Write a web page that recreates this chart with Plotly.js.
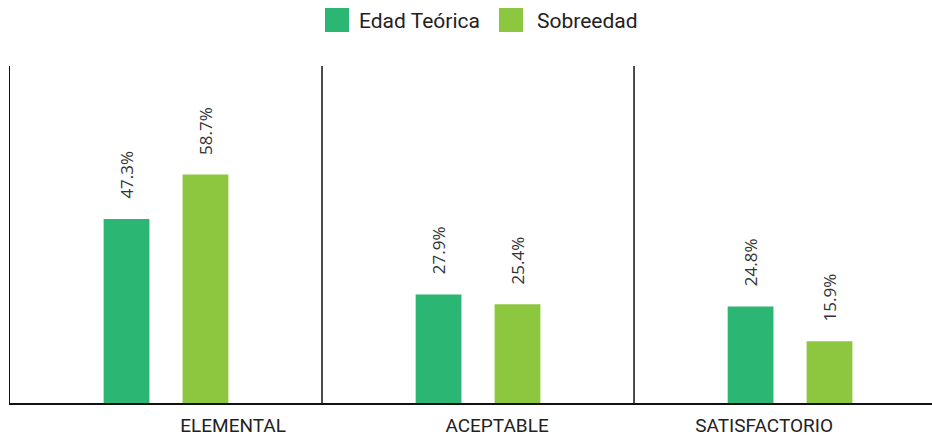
<!DOCTYPE html>
<html><head><meta charset="utf-8">
<script src="https://cdn.plot.ly/plotly-3.0.1.min.js"></script>
<style>html,body{margin:0;padding:0;background:#fff;}#chart{width:932px;height:437px;}</style>
</head><body><div id="chart"></div>
<script>
const categories = ["ELEMENTAL", "ACEPTABLE", "SATISFACTORIO"];
const seriesNames = ["Edad Teórica", "Sobreedad"];
const edadTeorica = [47.3, 27.9, 24.8];
const sobreedad = [58.7, 25.4, 15.9];
const colors = ["#2bb673", "#8dc63f"];
const labelPositions = [0.215, 1.061, 1.917];

const xs = categories.map((c, i) => i);
const fontMain = "Roboto, 'DejaVu Sans', sans-serif";

const traces = [
  {type: "bar", x: xs, y: edadTeorica, name: seriesNames[0], marker: {color: colors[0]}, showlegend: false, hoverinfo: "none"},
  {type: "bar", x: xs, y: sobreedad, name: seriesNames[1], marker: {color: colors[1]}, showlegend: false, hoverinfo: "none"}
];

const offset = 0.126;
const annotations = [];
[edadTeorica, sobreedad].forEach((vals, s) => {
  vals.forEach((v, i) => {
    annotations.push({
      x: i + (s === 0 ? -offset : offset), y: v, xref: "x", yref: "y",
      text: v.toFixed(1) + "%", showarrow: false, textangle: -90,
      xanchor: "center", yanchor: "bottom", yshift: 18,
      font: {family: "'Open Sans', 'Noto Sans', sans-serif", size: 17, color: "#333"}
    });
  });
});

const shapes = [0.5, 1.5].map(xv => ({
  type: "line", xref: "x", yref: "paper", x0: xv, x1: xv, y0: 0, y1: 1,
  line: {color: "#111", width: 1.5}
}));

// manual legend (pixel layout converted to paper coords)
const plotL = 10, plotW = 922, plotB = 403, plotH = 337;
const px = v => (v - plotL) / plotW;
const py = v => (plotB - v) / plotH;
const legendItems = [
  {sx: 325, tx: 357},
  {sx: 499, tx: 535}
];
legendItems.forEach((it, k) => {
  shapes.push({
    type: "rect", xref: "paper", yref: "paper",
    x0: px(it.sx), x1: px(it.sx + 24), y0: py(32), y1: py(8),
    fillcolor: colors[k], line: {width: 0}
  });
  annotations.push({
    xref: "paper", yref: "paper", x: px(it.tx), y: py(21),
    xanchor: "left", yanchor: "middle", showarrow: false,
    text: seriesNames[k], font: {family: fontMain, size: 21, color: "#222"}
  });
});

const layout = {
  width: 932, height: 437,
  margin: {l: 10, r: 0, t: 66, b: 34},
  paper_bgcolor: "#fff", plot_bgcolor: "#fff",
  barmode: "group", bargap: 0.494, bargroupgap: 0.42,
  font: {family: fontMain, color: "#222"},
  xaxis: {
    range: [-0.5, 2.455], tickmode: "array", tickvals: labelPositions, ticktext: categories,
    showgrid: false, zeroline: false, showline: true, linecolor: "#111", linewidth: 1.5,
    ticks: "", ticklabelstandoff: 5, tickfont: {family: fontMain, size: 19, color: "#222"}, fixedrange: true
  },
  yaxis: {
    range: [0, 86.6], showgrid: false, zeroline: false, showticklabels: false, ticks: "",
    showline: true, linecolor: "#111", linewidth: 1.5, fixedrange: true
  },
  showlegend: false,
  annotations: annotations,
  shapes: shapes
};

Plotly.newPlot("chart", traces, layout, {displayModeBar: false, staticPlot: true});
</script></body></html>
